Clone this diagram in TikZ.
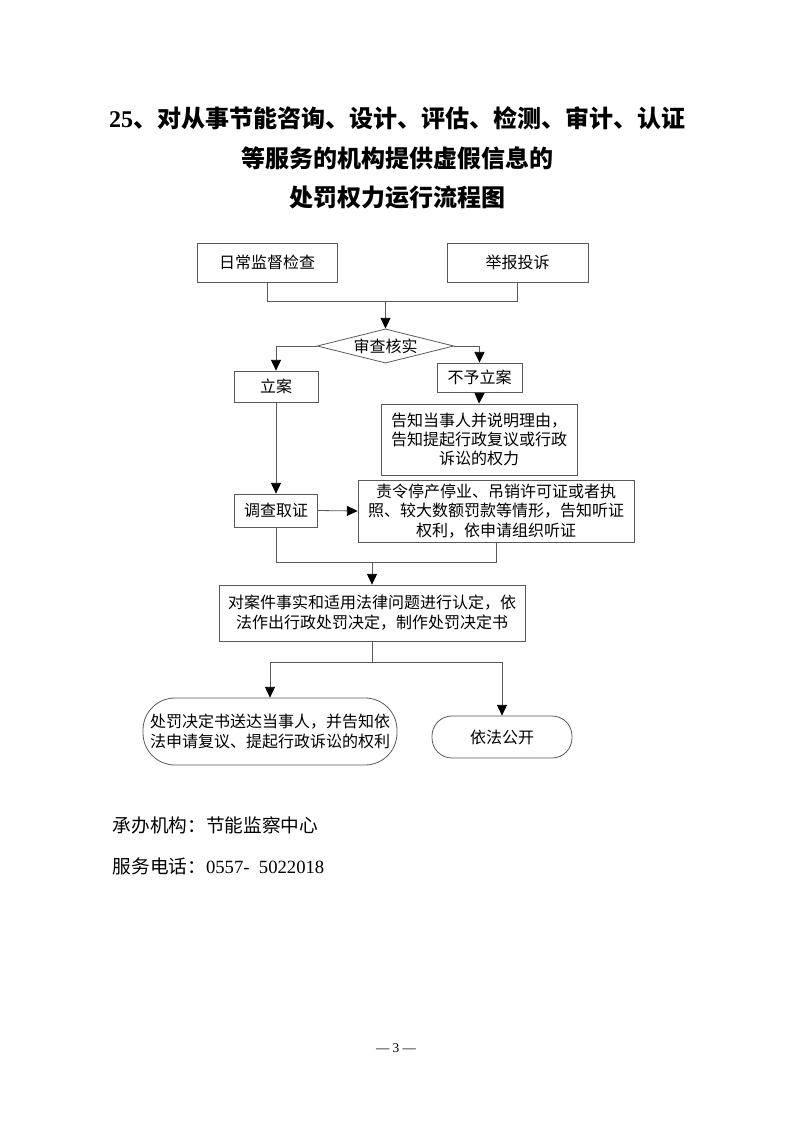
\documentclass[tikz,border=0pt]{standalone}
\usepackage{fontspec}
\setmainfont{Liberation Serif}
\newfontfamily\cjk{Noto Sans CJK SC}
\usetikzlibrary{arrows.meta,shapes.geometric,positioning,calc}
\def\unitpx{0.75pt}
\tikzset{
    box/.style={draw=black!65,line width=0.6pt,align=center,inner sep=1pt,
        font=\cjk\fontsize{12}{14.5}\selectfont},
    pill/.style={box,rounded corners=#1},
    flow/.style={draw=black!65,line width=0.6pt},
    arrow/.style={flow,-{Triangle[length=8pt,width=7.5pt,color=black]}}
}
\begin{document}
\begin{tikzpicture}[x=0.75pt,y=-0.75pt,line cap=butt,line join=miter]
    \useasboundingbox (0,0) rectangle (793,1122);

    % --- Title ---
    \node (title1) at (397,118) {\fontsize{18}{22}\selectfont\bfseries 25\cjk\bfseries 、对从事节能咨询、设计、评估、检测、审计、认证};
    \node (title2) at (397,158) {\cjk\fontsize{18}{22}\selectfont\bfseries 等服务的机构提供虚假信息的};
    \node (title3) at (397,198) {\cjk\fontsize{18}{22}\selectfont\bfseries 处罚权力运行流程图};

    % --- Boxes ---
    \node[box,minimum width=140*\unitpx,minimum height=39*\unitpx] (check) at (267,262.5) {日常监督检查};
    \node[box,minimum width=141*\unitpx,minimum height=39*\unitpx] (report) at (517.5,262.5) {举报投诉};
    \node[box,diamond,aspect=4,minimum width=135*\unitpx,minimum height=34*\unitpx] (verify) at (385.5,346) {审查核实};
    \node[box,minimum width=84*\unitpx,minimum height=31*\unitpx] (case) at (276,386.5) {立案};
    \node[box,minimum width=85*\unitpx,minimum height=29*\unitpx] (nocase) at (479.5,377.5) {不予立案};
    \node[box,minimum width=196*\unitpx,minimum height=71*\unitpx] (inform) at (479,439.5)
        {告知当事人并说明理由，\\告知提起行政复议或行政\\诉讼的权力};
    \node[box,minimum width=83*\unitpx,minimum height=33*\unitpx] (invest) at (276,510.5) {调查取证};
    \node[box,minimum width=276*\unitpx,minimum height=62*\unitpx] (hearing) at (496,511)
        {责令停产停业、吊销许可证或者执\\照、较大数额罚款等情形，告知听证\\权利，依申请组织听证};
    \node[box,minimum width=306*\unitpx,minimum height=56*\unitpx,font=\cjk\fontsize{12}{15}\selectfont] (decide) at (372,613)
        {对案件事实和适用法律问题进行认定，依\\法作出行政处罚决定，制作处罚决定书};
    \node[pill=24pt,minimum width=254*\unitpx,minimum height=67*\unitpx,font=\cjk\fontsize{12}{15}\selectfont] (deliver) at (270,731.5)
        {处罚决定书送达当事人，并告知依\\法申请复议、提起行政诉讼的权利};
    \node[pill=15pt,minimum width=140*\unitpx,minimum height=42*\unitpx] (publish) at (502,737) {依法公开};

    % --- Joins ---
    \coordinate (join1) at ($(verify.north)+(0,-27)$);
    \coordinate (join2) at ($(decide.north)+(0,-22)$);
    \coordinate (join3) at ($(decide.south)+(0,21)$);

    % --- Connectors ---
    \draw[flow] (check.south) |- (join1) -| (report.south);
    \draw[arrow] (join1) -- (verify.north);
    \draw[arrow] (verify.west) -| (case.north);
    \draw[arrow] (verify.east) -| (nocase.north);
    \draw[arrow] (nocase.south) -- (inform.north);
    \draw[arrow] (case.south) -- (invest.north);
    \draw[arrow] (invest.east) -- (hearing.west);
    \draw[flow] (invest.south) |- (join2) -| (hearing.south);
    \draw[arrow] (join2) -- (decide.north);
    \draw[flow] (decide.south) -- (join3);
    \draw[arrow] (join3) -| (deliver.north);
    \draw[arrow] (join3) -| (publish.north);

    % --- Footer ---
    \node[anchor=west] (office) at (108,825) {\cjk\fontsize{14}{17}\selectfont 承办机构：节能监察中心};
    \node[anchor=west] (phone) at (108,866) {\fontsize{14}{17}\selectfont{\cjk 服务电话：}0557-\hspace{0.5em}5022018};
    \node (page) at (396,1048) {\fontsize{10}{12}\selectfont — 3 —};
\end{tikzpicture}
\end{document}
